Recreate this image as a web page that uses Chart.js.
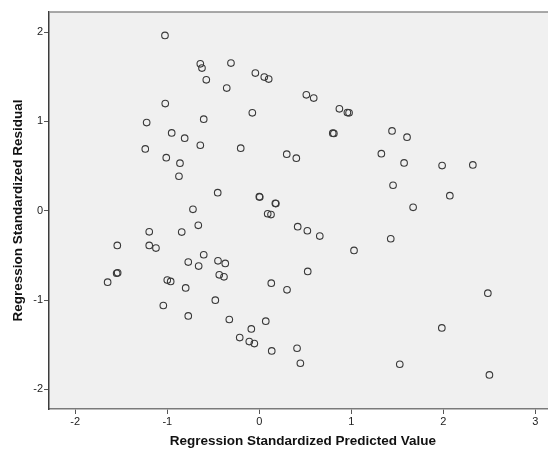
<!DOCTYPE html>
<html>
<head>
<meta charset="utf-8">
<script src="https://cdn.jsdelivr.net/npm/chart.js@4"></script>
<style>
  html, body { margin: 0; padding: 0; background: #fff; overflow: hidden; }
  #wrap { width: 561px; height: 449px; }
</style>
</head>
<body>
<div id="wrap"><canvas id="grafico"></canvas></div>
<script>
// valores (predito padronizado x resíduo padronizado)
const previsto = [
  -1.025, -0.641, -0.623, -0.308, -0.576, -0.043, 0.054, 0.102, -0.354, 0.511,
  0.591, -1.022, 0.870, 0.957, 0.975, -0.076, -1.224, -0.604, -0.952, -0.811,
  0.798, 0.810, 1.442, 1.605, -0.641, -1.239, -0.202, 0.298, 0.402, 1.326,
  1.573, 1.986, 2.320, -1.011, -0.862, -0.873, 1.453, -0.452, 2.070, 0.000,
  0.005, 0.174, 0.180, 1.671, -0.721, 0.091, 0.127, -1.196, -0.843, -0.663,
  -1.543, -1.196, -1.123, -0.604, -0.772, -0.659, -0.449, -0.370, -1.539, -1.550,
  -1.648, -1.000, -0.963, -0.435, -0.384, -0.800, 0.130, -0.478, -1.043, -0.772,
  -0.326, 0.070, -0.087, -0.213, -0.109, -0.054, 0.135, 0.417, 0.522, 0.657,
  1.428, 1.029, 0.526, 0.301, 2.483, 1.983, 0.410, 0.446, 1.526, 2.500
];
const residuo = [
  1.963, 1.645, 1.597, 1.653, 1.466, 1.541, 1.496, 1.474, 1.373, 1.298,
  1.261, 1.200, 1.141, 1.099, 1.096, 1.096, 0.987, 1.025, 0.871, 0.812,
  0.868, 0.866, 0.894, 0.823, 0.733, 0.692, 0.700, 0.633, 0.588, 0.639,
  0.535, 0.505, 0.513, 0.594, 0.532, 0.386, 0.285, 0.202, 0.168, 0.157,
  0.153, 0.083, 0.080, 0.038, 0.016, -0.034, -0.043, -0.236, -0.239, -0.164,
  -0.388, -0.388, -0.418, -0.493, -0.575, -0.620, -0.561, -0.590, -0.695, -0.700,
  -0.800, -0.777, -0.792, -0.718, -0.740, -0.864, -0.811, -1.001, -1.061, -1.178,
  -1.218, -1.237, -1.323, -1.420, -1.465, -1.487, -1.570, -0.179, -0.224, -0.284,
  -0.314, -0.444, -0.680, -0.886, -0.923, -1.312, -1.540, -1.708, -1.719, -1.839
];
const ticksX = [-2, -1, 0, 1, 2, 3];
const ticksY = [-2, -1, 0, 1, 2];

let pontos = [];
for (let i = 0; i < previsto.length; i++) {
    pontos.push({ x: previsto[i], y: residuo[i] });
}

// fundo cinza da área do gráfico + borda de cima
const fundoArea = {
    id: 'fundoArea',
    beforeDraw(chart) {
        const a = chart.chartArea;
        const c = chart.ctx;
        c.save();
        c.fillStyle = '#f0f0f0';
        c.fillRect(a.left, a.top, a.right - a.left, a.bottom - a.top);
        c.restore();
    },
    afterDraw(chart) {
        const a = chart.chartArea;
        const c = chart.ctx;
        c.save();
        c.strokeStyle = '#8c8c8c';
        c.lineWidth = 1.5;
        c.beginPath();
        c.moveTo(a.left, a.top);
        c.lineTo(a.right, a.top);
        c.stroke();
        c.restore();
    }
};

window.onload = () => {
    new Chart(document.getElementById('grafico'), {
        type: 'scatter',
        data: {
            datasets: [{
                data: pontos,
                pointStyle: 'circle',
                pointRadius: 3.3,
                pointHoverRadius: 3.3,
                borderWidth: 1.1,
                borderColor: '#3a3a3a',
                backgroundColor: 'rgba(0,0,0,0)'
            }]
        },
        options: {
            responsive: true,
            maintainAspectRatio: false,
            animation: false,
            layout: { padding: { top: 12, left: 0, right: 0, bottom: 0 } },
            plugins: {
                legend: { display: false },
                title: { display: false },
                tooltip: { enabled: false }
            },
            scales: {
                x: {
                    type: 'linear',
                    min: -2.285,
                    max: 3.23,
                    afterBuildTicks: (s) => { s.ticks = ticksX.map(v => ({ value: v })); },
                    afterFit: (s) => { s.height = 40; s.paddingLeft = 0; s.paddingRight = 0; },
                    border: { display: true, color: '#7a7a7a', width: 1.5 },
                    grid: { display: true, drawOnChartArea: false, drawTicks: true, tickLength: 5, color: '#555', lineWidth: 1 },
                    ticks: { color: '#222', padding: 1, font: { family: 'Arial, Liberation Sans', size: 11 } },
                    title: {
                        display: true,
                        text: 'Regression Standardized Predicted Value',
                        color: '#111',
                        font: { family: 'Arial, Liberation Sans', size: 13.5, weight: 'bold' },
                        padding: { top: -2.6, bottom: 0 }
                    }
                },
                y: {
                    type: 'linear',
                    min: -2.22,
                    max: 2.225,
                    afterBuildTicks: (s) => { s.ticks = ticksY.map(v => ({ value: v })); },
                    afterFit: (s) => { s.width = 49; s.paddingTop = 0; s.paddingBottom = 0; },
                    border: { display: true, color: '#3c3c3c', width: 1.5 },
                    grid: { display: true, drawOnChartArea: false, drawTicks: true, tickLength: 5, color: '#555', lineWidth: 1 },
                    ticks: { color: '#222', padding: 1, font: { family: 'Arial, Liberation Sans', size: 11 } },
                    title: {
                        display: true,
                        text: 'Regression Standardized Residual',
                        color: '#111',
                        font: { family: 'Arial, Liberation Sans', size: 13.5, weight: 'bold' },
                        padding: { top: 10, bottom: 0 }
                    }
                }
            }
        },
        plugins: [fundoArea]
    });
};
</script>
</body>
</html>
